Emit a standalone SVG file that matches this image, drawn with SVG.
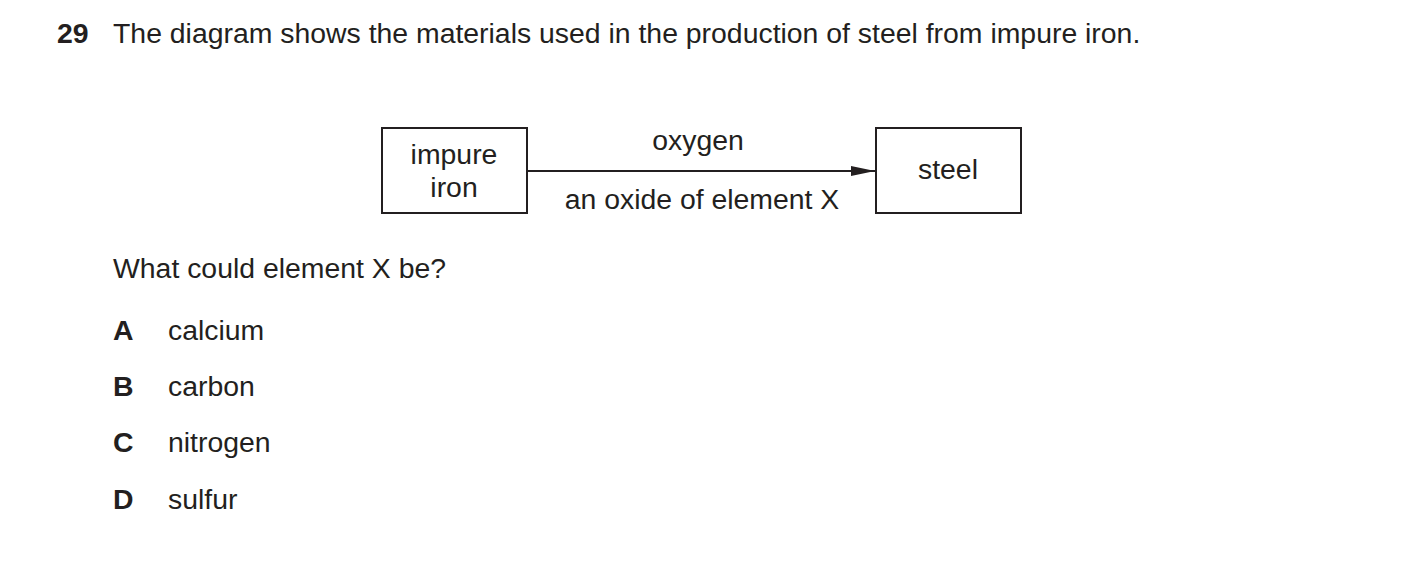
<svg xmlns="http://www.w3.org/2000/svg" width="1403" height="564" viewBox="0 0 1403 564">
<style>
text{font-family:"Liberation Sans",Arial,sans-serif;fill:#231f20}
.q{font-size:28.4px}
.d{font-size:28.4px}
.b{font-weight:bold}
.box{fill:#fff;stroke:#231f20;stroke-width:2}
</style>
<defs><marker id="ah" markerWidth="24" markerHeight="10" refX="24" refY="5" orient="auto" markerUnits="userSpaceOnUse"><path d="M0,0 L24,5 L0,10 Z" fill="#231f20"/></marker></defs>
<rect width="1403" height="564" fill="#fff"/>
<text class="q b" x="57" y="43">29</text>
<text class="q" x="113" y="43">The diagram shows the materials used in the production of steel from impure iron.</text>
<g id="impure-iron"><rect class="box" x="382" y="128" width="145" height="85"/>
<text class="d" x="454" y="164" text-anchor="middle">impure</text><text class="d" x="454" y="197" text-anchor="middle">iron</text></g>
<g id="steel"><rect class="box" x="876" y="128" width="145" height="85"/>
<text class="d" x="948" y="179" text-anchor="middle">steel</text></g>
<g id="connectors"><line x1="527" y1="171" x2="875" y2="171" stroke="#231f20" stroke-width="2" marker-end="url(#ah)"/>
<text class="d" x="698" y="150" text-anchor="middle">oxygen</text>
<text class="d" x="702" y="209" text-anchor="middle">an oxide of element X</text></g>
<text class="q" x="113" y="278">What could element X be?</text>
<text class="q b" x="113" y="340">A</text><text class="q" x="168" y="340">calcium</text>
<text class="q b" x="113" y="396">B</text><text class="q" x="168" y="396">carbon</text>
<text class="q b" x="113" y="452">C</text><text class="q" x="168" y="452">nitrogen</text>
<text class="q b" x="113" y="509">D</text><text class="q" x="168" y="509">sulfur</text>
</svg>
